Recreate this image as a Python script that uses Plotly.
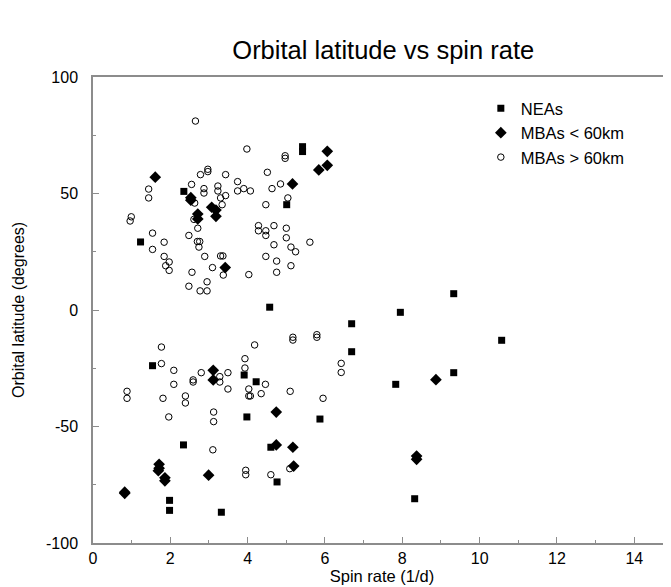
import plotly.graph_objects as go

# NEAs (filled squares)
nea_x = [2.35, 1.23, 5.42, 5.42, 5.01, 4.57, 9.33, 7.95, 6.69, 6.69, 9.33, 7.83, 10.57,
         1.54, 3.91, 4.22, 3.98, 5.87, 2.34, 4.60, 4.76, 1.98, 1.98, 3.32, 8.32]
nea_y = [50.9, 29.2, 70.1, 68.0, 45.2, 1.2, 7.0, -1.0, -5.9, -17.9, -26.9, -31.9, -13.0,
         -23.9, -27.9, -30.8, -45.9, -46.8, -57.9, -58.9, -73.8, -81.7, -86.0, -86.8, -81.0]

# MBAs < 60km (filled diamonds)
mbs_x = [1.61, 6.06, 6.06, 5.84, 5.16, 2.53, 2.53, 2.71, 2.71, 3.07, 3.18, 3.18, 3.42,
         3.11, 3.11, 4.74, 4.74, 5.17, 5.19, 1.71, 1.71, 1.69, 1.86, 1.86, 2.99, 0.82, 0.82,
         8.87, 8.37, 8.37]
mbs_y = [57.0, 68.1, 62.1, 60.1, 54.1, 48.2, 47.1, 41.2, 39.1, 44.1, 42.9, 40.2, 18.2,
         -25.9, -30.0, -43.8, -57.9, -58.9, -67.0, -66.2, -67.9, -69.0, -72.0, -73.3, -70.9,
         -78.2, -78.7, -29.9, -62.7, -64.1]

# MBAs > 60km (open circles)
mbl_x = [2.65, 3.98, 4.97, 4.97, 2.97, 2.97, 2.78, 3.43, 4.51, 1.44, 1.44, 2.55, 2.87, 2.87,
         3.23, 3.23, 3.43, 3.30, 3.34, 2.63, 3.74, 3.74, 3.90, 4.07, 4.63, 4.85, 5.04, 4.47,
         0.99, 0.96, 2.61, 2.71, 1.54, 1.84, 1.54, 2.48, 2.70, 2.76, 2.74, 1.84, 1.97, 1.88,
         1.97, 2.89, 3.30, 3.36, 3.09, 3.37, 2.56, 2.95, 2.48, 2.77, 2.95, 4.03, 4.28, 4.28,
         4.47, 4.47, 4.68, 5.00, 5.00, 4.68, 5.12, 5.24, 5.61, 4.47, 4.75, 5.12, 4.75,
         1.77, 1.77, 2.09, 2.09, 0.88, 0.88, 1.81, 2.39, 2.39, 1.96, 2.59, 2.59, 2.80, 3.28,
         3.28, 3.49, 3.49, 3.12, 3.12, 3.10, 3.93, 3.93, 4.18, 4.03, 4.03, 4.07, 4.35, 4.46,
         5.10, 5.17, 5.17, 5.79, 5.79, 6.42, 6.42, 5.95, 3.95, 3.95, 4.60, 5.09]
mbl_y = [81.1, 69.1, 66.2, 65.1, 60.4, 59.4, 58.1, 58.1, 59.1, 51.9, 48.1, 53.9, 52.1, 50.2,
         53.2, 51.1, 49.1, 48.1, 45.2, 45.9, 55.1, 51.1, 52.1, 51.1, 52.1, 54.1, 48.1, 45.2,
         40.0, 38.2, 38.9, 35.1, 33.0, 29.1, 26.0, 32.0, 29.4, 29.4, 27.0, 23.0, 20.6, 19.0,
         17.0, 23.0, 23.2, 23.2, 18.2, 15.0, 16.2, 12.1, 10.2, 8.2, 8.2, 15.2, 36.2, 34.0,
         34.0, 32.0, 36.2, 35.1, 31.0, 28.0, 27.0, 25.0, 29.1, 23.0, 21.0, 19.0, 16.2,
         -15.9, -23.0, -25.9, -31.9, -34.9, -37.9, -37.9, -36.9, -39.9, -45.9, -30.0, -30.9,
         -26.9, -28.6, -30.9, -26.9, -33.9, -43.8, -47.9, -60.0, -20.9, -24.9, -15.0, -33.9,
         -36.9, -36.9, -35.9, -31.9, -34.9, -11.7, -12.9, -10.6, -11.7, -22.9, -26.8, -37.9,
         -68.8, -70.7, -70.7, -68.1]

x_ticks = [0, 2, 4, 6, 8, 10, 12, 14]
y_ticks = [-100, -50, 0, 50, 100]

FONT = "Liberation Sans, Arial, Helvetica, sans-serif"
AX = "#8c8c8c"

fig = go.Figure()
fig.add_trace(go.Scatter(x=nea_x, y=nea_y, mode="markers", name="NEAs",
                         marker=dict(symbol="square", size=7, color="black",
                                     line=dict(width=0))))
fig.add_trace(go.Scatter(x=mbs_x, y=mbs_y, mode="markers", name="MBAs < 60km",
                         marker=dict(symbol="diamond", size=9, color="black",
                                     line=dict(width=0))))
fig.add_trace(go.Scatter(x=mbl_x, y=mbl_y, mode="markers", name="MBAs > 60km",
                         marker=dict(symbol="circle-open", size=6.5, color="black",
                                     line=dict(width=1, color="black"))))

fig.update_layout(
    width=663, height=579,
    paper_bgcolor="white", plot_bgcolor="white",
    margin=dict(l=85, r=0, t=69, b=44),
    font=dict(family=FONT, size=16, color="black"),
    title=dict(text="Orbital latitude vs spin rate", x=0.566, xref="container",
               xanchor="center", y=0.927, yref="container", yanchor="middle",
               font=dict(size=25.5, family=FONT, color="black")),
    showlegend=True,
    legend=dict(x=0.671, y=0.97, xanchor="left", yanchor="top",
                bgcolor="rgba(0,0,0,0)", font=dict(size=16.5, family=FONT),
                tracegroupgap=0, itemwidth=30),
    xaxis=dict(range=[0, 14.95], tickvals=x_ticks, ticktext=[str(v) for v in x_ticks],
               showgrid=False, zeroline=False, showline=True, linecolor=AX, linewidth=1.5,
               mirror=True, ticks="inside", ticklen=6, tickcolor=AX, tickwidth=1,
               minor=dict(dtick=1, ticks="inside", ticklen=3, tickcolor=AX),
               title=dict(text="Spin rate (1/d)", standoff=4, font=dict(size=16.5))),
    yaxis=dict(range=[-100, 100], tickvals=y_ticks, ticktext=[str(v) for v in y_ticks],
               showgrid=False, zeroline=False, showline=True, linecolor=AX, linewidth=1.5,
               mirror=False, ticks="inside", ticklen=6, tickcolor=AX, tickwidth=1,
               ticklabelstandoff=10,
               minor=dict(dtick=25, ticks="inside", ticklen=3, tickcolor=AX)),
    annotations=[dict(text="Orbital latitude (degrees)", textangle=-90,
                      xref="paper", yref="paper", x=-0.1298, y=0.5,
                      xanchor="center", yanchor="middle", showarrow=False,
                      font=dict(size=16, family=FONT, color="black"))],
)

fig.write_html("out.html")
